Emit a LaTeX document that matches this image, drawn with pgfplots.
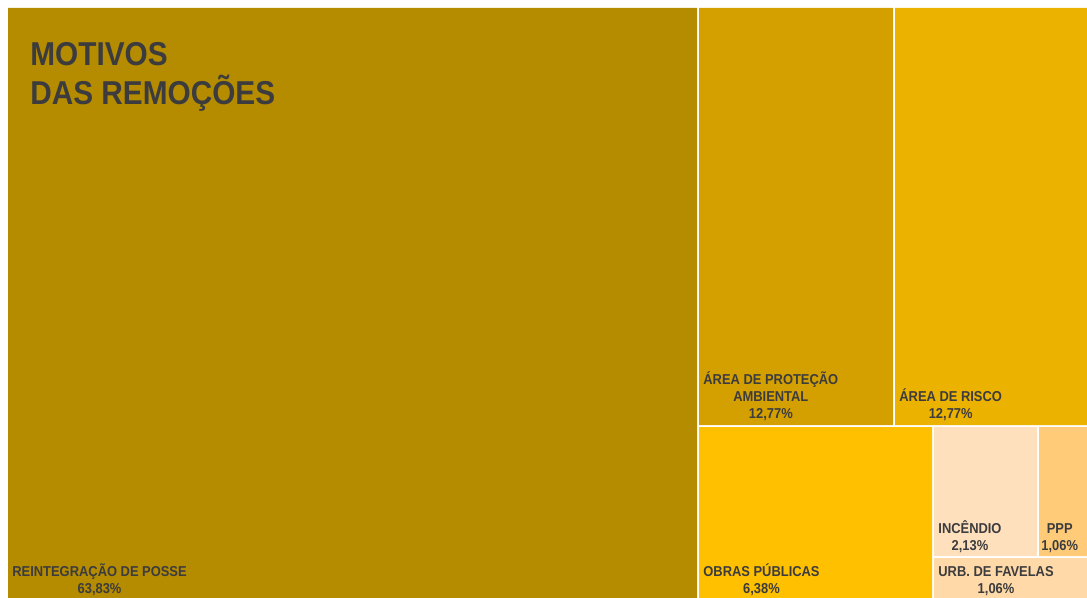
\documentclass[border=0pt]{standalone}
\usepackage{pgfplots}
\pgfplotsset{compat=1.18}
\usepackage{fontspec}
\setmainfont{Liberation Sans}[FakeStretch=0.9]
\definecolor{cMain}{HTML}{B58B00}
\definecolor{cAPA}{HTML}{D4A000}
\definecolor{cRisco}{HTML}{EBB200}
\definecolor{cObras}{HTML}{FFC000}
\definecolor{cInc}{HTML}{FFE0BC}
\definecolor{cPPP}{HTML}{FFCB78}
\definecolor{cUrb}{HTML}{FFD9A8}
\definecolor{txt}{HTML}{3C3C3E}
\tikzset{lab/.style={font=\bfseries\fontsize{7.2}{8.5}\selectfont, text=txt, align=center, inner sep=0pt}}
\begin{document}
\begin{tikzpicture}
\begin{axis}[
  width=543.5bp, height=299bp, scale only axis,
  xmin=0, xmax=1087, ymin=0, ymax=598, y dir=reverse,
  hide axis, clip=true,
  every axis plot/.append style={draw=none},
]
% background
\addplot[fill=white] coordinates {(0,0) (1087,0) (1087,598) (0,598) (0,0)};
% Reintegração de posse 63,83%
\addplot[fill=cMain] coordinates {(8,8) (697,8) (697,598) (8,598) (8,8)};
% Área de proteção ambiental 12,77%
\addplot[fill=cAPA] coordinates {(699,8) (893,8) (893,425) (699,425) (699,8)};
% Área de risco 12,77%
\addplot[fill=cRisco] coordinates {(895,8) (1087,8) (1087,425) (895,425) (895,8)};
% Obras públicas 6,38%
\addplot[fill=cObras] coordinates {(699,427) (932,427) (932,598) (699,598) (699,427)};
% Incêndio 2,13%
\addplot[fill=cInc] coordinates {(934,427) (1037,427) (1037,556) (934,556) (934,427)};
% PPP 1,06%
\addplot[fill=cPPP] coordinates {(1039,427) (1087,427) (1087,556) (1039,556) (1039,427)};
% Urb. de favelas 1,06%
\addplot[fill=cUrb] coordinates {(934,558) (1087,558) (1087,598) (934,598) (934,558)};

\node[anchor=north west, inner sep=0pt, align=left, text=txt,
  font=\bfseries\fontsize{16.6}{19.5}\selectfont] at (axis cs:30,42) {MOTIVOS\\DAS REMOÇÕES};

\node[lab, anchor=south west] at (axis cs:12,596.5) {REINTEGRAÇÃO DE POSSE\\63,83\%};
\node[lab, anchor=south west] at (axis cs:703,421) {ÁREA DE PROTEÇÃO\\AMBIENTAL\\12,77\%};
\node[lab, anchor=south west] at (axis cs:899,421) {ÁREA DE RISCO\\12,77\%};
\node[lab, anchor=south west] at (axis cs:703,596.5) {OBRAS PÚBLICAS\\6,38\%};
\node[lab, anchor=south west] at (axis cs:938,553) {INCÊNDIO\\2,13\%};
\node[lab, anchor=south west] at (axis cs:1041,553) {PPP\\1,06\%};
\node[lab, anchor=south west] at (axis cs:938,596.5) {URB. DE FAVELAS\\1,06\%};
\end{axis}
\end{tikzpicture}
\end{document}
